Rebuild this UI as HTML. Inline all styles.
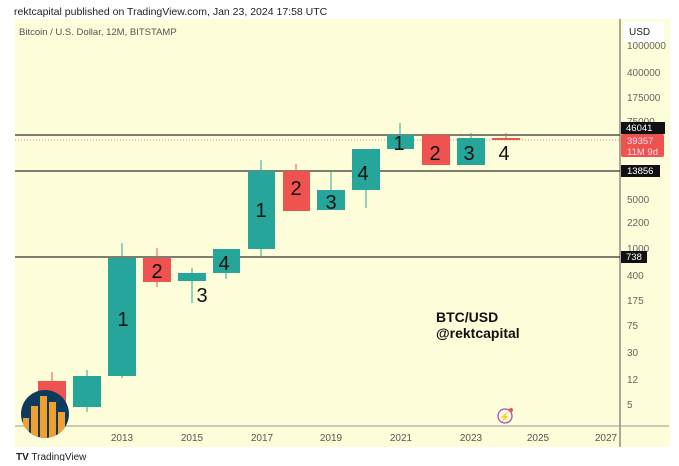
<!DOCTYPE html>
<html><head><style>
body{margin:0;background:#fff;width:679px;height:461px;overflow:hidden;font-family:"Liberation Sans",sans-serif}
</style></head><body>
<svg width="679" height="461" xmlns="http://www.w3.org/2000/svg" font-family="Liberation Sans, sans-serif">
<rect width="679" height="461" fill="#fff"/>
<text x="14" y="15" font-size="10.5" fill="#222">rektcapital published on TradingView.com, Jan 23, 2024 17:58 UTC</text>
<rect x="15" y="19" width="655" height="428" fill="#fdfdd9"/>
<line x1="620" y1="19" x2="620" y2="447" stroke="#555" stroke-width="1"/>
<line x1="15" y1="426" x2="669" y2="426" stroke="#999" stroke-width="1"/>
<rect x="624" y="22" width="40" height="20" fill="#fff"/>
<text x="629" y="35" font-size="10" fill="#222">USD</text>
<text x="19" y="35" font-size="9.5" fill="#555">Bitcoin / U.S. Dollar, 12M, BITSTAMP</text>
<g font-size="10" fill="#666">
<text x="627" y="49">1000000</text><text x="627" y="76">400000</text><text x="627" y="101">175000</text><text x="627" y="125">75000</text>
<text x="627" y="203">5000</text><text x="627" y="226">2200</text><text x="627" y="252">1000</text><text x="627" y="279">400</text>
<text x="627" y="304">175</text><text x="627" y="329">75</text><text x="627" y="356">30</text><text x="627" y="383">12</text><text x="627" y="408">5</text>
</g>
<g font-size="10" fill="#555" text-anchor="middle">
<text x="122" y="441">2013</text><text x="192" y="441">2015</text><text x="262" y="441">2017</text><text x="331" y="441">2019</text>
<text x="401" y="441">2021</text><text x="471" y="441">2023</text><text x="538" y="441">2025</text><text x="606" y="441">2027</text>
</g>
<line x1="15" y1="135" x2="620" y2="135" stroke="#333" stroke-width="1.2"/>
<line x1="15" y1="171" x2="620" y2="171" stroke="#333" stroke-width="1.2"/>
<line x1="15" y1="257" x2="620" y2="257" stroke="#333" stroke-width="1.2"/>
<line x1="15" y1="140" x2="620" y2="140" stroke="#e06060" stroke-width="0.7" stroke-dasharray="1,2"/>
<g stroke-width="1">
<line x1="52" y1="372" x2="52" y2="405" stroke="#e85050"/><rect x="38" y="381" width="28" height="24" fill="#ef5350"/>
<line x1="87" y1="370" x2="87" y2="412" stroke="#26a69a"/><rect x="73" y="376" width="28" height="31" fill="#26a69a"/>
<line x1="122" y1="243" x2="122" y2="378" stroke="#26a69a"/><rect x="108" y="258" width="28" height="118" fill="#26a69a"/>
<line x1="157" y1="248" x2="157" y2="287" stroke="#ef5350"/><rect x="143" y="258" width="28" height="24" fill="#ef5350"/>
<line x1="192" y1="268" x2="192" y2="303" stroke="#26a69a"/><rect x="178" y="273" width="28" height="8" fill="#26a69a"/>
<line x1="226" y1="249" x2="226" y2="279" stroke="#26a69a"/><rect x="213" y="249" width="27" height="24" fill="#26a69a"/>
<line x1="261" y1="160" x2="261" y2="257" stroke="#26a69a"/><rect x="248" y="171" width="27" height="78" fill="#26a69a"/>
<line x1="296" y1="164" x2="296" y2="211" stroke="#ef5350"/><rect x="283" y="171" width="27" height="40" fill="#ef5350"/>
<line x1="331" y1="171" x2="331" y2="210" stroke="#26a69a"/><rect x="317" y="190" width="28" height="20" fill="#26a69a"/>
<line x1="366" y1="149" x2="366" y2="208" stroke="#26a69a"/><rect x="352" y="149" width="28" height="41" fill="#26a69a"/>
<line x1="400" y1="123" x2="400" y2="149" stroke="#26a69a"/><rect x="387" y="135" width="27" height="14" fill="#26a69a"/>
<rect x="422" y="135" width="28" height="30" fill="#ef5350"/>
<line x1="471" y1="133" x2="471" y2="165" stroke="#26a69a"/><rect x="457" y="138" width="28" height="27" fill="#26a69a"/>
<line x1="506" y1="133" x2="506" y2="140" stroke="#ef5350"/><rect x="492" y="138" width="28" height="2" fill="#ef5350"/>
</g>
<g font-size="20" fill="#111" text-anchor="middle">
<text x="123" y="326">1</text><text x="157" y="278">2</text><text x="202" y="302">3</text><text x="224" y="270">4</text>
<text x="261" y="217">1</text><text x="296" y="195">2</text><text x="331" y="209">3</text><text x="363" y="180">4</text>
<text x="399" y="150">1</text><text x="435" y="160">2</text><text x="469" y="160">3</text><text x="504" y="160">4</text>
</g>
<text x="436" y="322" font-size="14" font-weight="bold" fill="#111">BTC/USD</text>
<text x="436" y="338" font-size="14" font-weight="bold" fill="#111">@rektcapital</text>
<rect x="621" y="122" width="44" height="12" fill="#111"/><text x="626" y="131" font-size="9.5" fill="#fff">46041</text>
<rect x="621" y="134" width="43" height="23" rx="2" fill="#ef5350"/><text x="627" y="144" font-size="9.5" fill="#fde">39357</text><text x="627" y="155" font-size="9.5" fill="#fde">11M 9d</text>
<rect x="621" y="165" width="39" height="12" fill="#111"/><text x="627" y="174" font-size="9.5" fill="#fff">13856</text>
<rect x="621" y="251" width="26" height="12" fill="#111"/><text x="626" y="260" font-size="9.5" fill="#fff">738</text>
<circle cx="505" cy="416" r="7" fill="none" stroke="#9c4fd0" stroke-width="1.3"/>
<text x="505" y="420" font-size="9" fill="#9c4fd0" text-anchor="middle">⚡</text>
<circle cx="511" cy="410" r="2" fill="#e53"/>
<clipPath id="c"><circle cx="45" cy="414" r="24"/></clipPath>
<circle cx="45" cy="414" r="24" fill="#0d3b5e"/>
<g clip-path="url(#c)" fill="#f0a030">
<rect x="23" y="418" width="6" height="30"/><rect x="31" y="406" width="7" height="40"/><rect x="40" y="396" width="7" height="50"/>
<rect x="49" y="402" width="7" height="45"/><rect x="58" y="412" width="7" height="35"/>
</g>
<text x="16" y="460" font-size="10" fill="#222"><tspan font-weight="bold">TV</tspan> TradingView</text>
</svg>
</body></html>
